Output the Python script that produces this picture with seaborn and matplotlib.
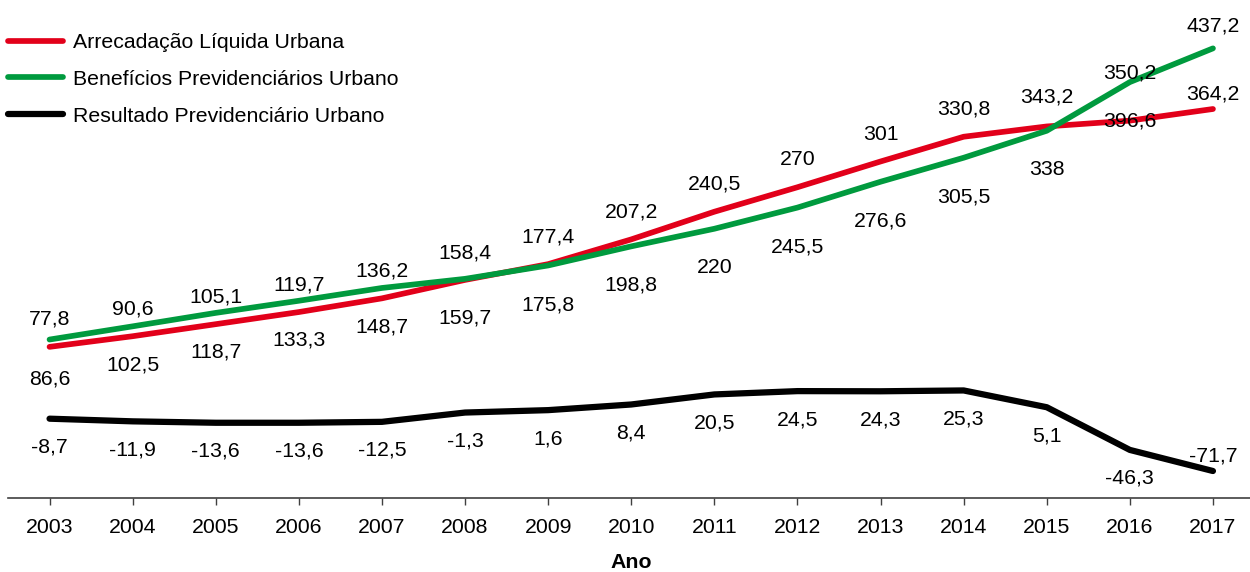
import matplotlib
matplotlib.use("Agg")
import matplotlib.pyplot as plt
import pandas as pd
import seaborn as sns

# Valores anuais (R$ bilhões)
anos = list(range(2003, 2018))
arrecadacao = [77.8, 90.6, 105.1, 119.7, 136.2, 158.4, 177.4, 207.2, 240.5,
               270, 301, 330.8, 343.2, 350.2, 364.2]
beneficios = [86.6, 102.5, 118.7, 133.3, 148.7, 159.7, 175.8, 198.8, 220,
              245.5, 276.6, 305.5, 338, 396.6, 437.2]
resultado = [-8.7, -11.9, -13.6, -13.6, -12.5, -1.3, 1.6, 8.4, 20.5, 24.5,
             24.3, 25.3, 5.1, -46.3, -71.7]

nomes = ["Arrecadação Líquida Urbana",
         "Benefícios Previdenciários Urbano",
         "Resultado Previdenciário Urbano"]
cores = ["#E2001A", "#009A3E", "#000000"]

# Deslocamento vertical dos rótulos (pixels, positivo = acima do ponto)
desloc_arrec = [29.5] * 12 + [31.5, 50, 17]
desloc_benef = [-37] * 14 + [24]
desloc_result = [-26.3] * 14 + [16.7]

sns.set_theme(style="white")
plt.rcParams["font.family"] = ["Liberation Sans", "DejaVu Sans"]
plt.rcParams["text.color"] = "black"
plt.rcParams["axes.labelcolor"] = "black"
plt.rcParams["xtick.color"] = "black"

df = pd.DataFrame({
    "Ano": anos * 3,
    "Valor": arrecadacao + beneficios + resultado,
    "Série": [nomes[0]] * len(anos) + [nomes[1]] * len(anos) + [nomes[2]] * len(anos),
})

W, H = 1250, 572
fig = plt.figure(figsize=(W / 100, H / 100), dpi=100)
ax = fig.add_axes([8 / W, 74 / H, 15 * 83.1 / W, 488 / H])

sns.lineplot(data=df, x="Ano", y="Valor", hue="Série", hue_order=nomes,
             palette=cores, linewidth=4.1, legend=False, sort=False, ax=ax,
             solid_capstyle="round", solid_joinstyle="round")
ax.lines[2].set_linewidth(4.5)

ax.set_xlim(2002.5, 2017.5)
ax.set_ylim(-104.2, 483.4)

# Rótulos de dados
fs = 15.3
base = 7.6  # distância do centro dos algarismos até a linha de base
for valores, desl in ((arrecadacao, desloc_arrec),
                      (beneficios, desloc_benef),
                      (resultado, desloc_result)):
    for ano, v, d in zip(anos, valores, desl):
        txt = f"{v:g}".replace(".", ",")
        ax.annotate(txt, (ano, v), xytext=(0, d - base),
                    textcoords="offset pixels", ha="center", va="baseline",
                    fontsize=fs, color="black")

# Eixos
for lado in ("left", "right", "top"):
    ax.spines[lado].set_visible(False)
ax.spines["bottom"].set_color("#404040")
ax.spines["bottom"].set_linewidth(1.2)
ax.set_yticks([])
ax.set_xticks(anos)
ax.set_xticklabels([str(a) for a in anos])
ax.tick_params(axis="x", which="major", direction="out", length=5,
               width=1, color="#404040", labelcolor="black", labelsize=fs,
               pad=9.5, bottom=True)
ax.set_xlabel("Ano", fontsize=fs, fontweight="bold", labelpad=11.5,
              color="black")
ax.set_ylabel("")

ax.legend(ax.lines[:3], nomes, loc="upper left",
          bbox_to_anchor=(8 / W, 1 - 33 / H), bbox_transform=fig.transFigure,
          frameon=False, fontsize=fs, handlelength=2.6, handletextpad=0.45,
          labelspacing=0.84, borderpad=0, borderaxespad=0)

fig.savefig("out.png", dpi=100)
